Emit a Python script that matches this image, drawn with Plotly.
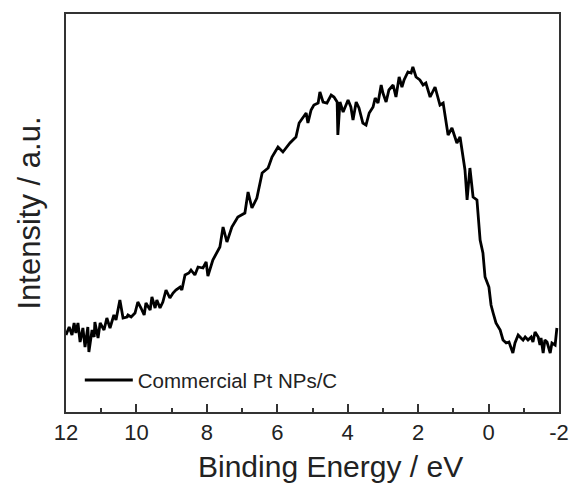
import plotly.graph_objects as go

energy_ev = [12.00, 11.97, 11.91, 11.83, 11.77, 11.72, 11.66, 11.60, 11.52, 11.46,
             11.38, 11.35, 11.26, 11.20, 11.18, 11.09, 11.03, 10.92, 10.84, 10.75,
             10.64, 10.58, 10.47, 10.38, 10.27, 10.24, 10.15, 10.04, 9.96, 9.87,
             9.78, 9.73, 9.61, 9.56, 9.47, 9.42, 9.33, 9.25, 9.16, 9.05,
             8.96, 8.88, 8.76, 8.71, 8.62, 8.51, 8.45, 8.34, 8.25, 8.11,
             8.02, 7.97, 7.83, 7.63, 7.54, 7.43, 7.29, 7.12, 6.92, 6.83,
             6.72, 6.58, 6.43, 6.26, 6.15, 5.98, 5.84, 5.64, 5.55, 5.47,
             5.38, 5.27, 5.18, 5.13, 5.04, 4.96, 4.84, 4.79, 4.70, 4.59,
             4.47, 4.39, 4.30, 4.28, 4.22, 4.13, 3.99, 3.91, 3.85, 3.76,
             3.68, 3.57, 3.48, 3.39, 3.28, 3.22, 3.14, 3.05, 3.00, 2.91,
             2.83, 2.71, 2.63, 2.54, 2.46, 2.40, 2.29, 2.20, 2.15, 2.06,
             1.95, 1.86, 1.78, 1.66, 1.52, 1.38, 1.29, 1.15, 1.04, 0.90,
             0.81, 0.67, 0.61, 0.53, 0.44, 0.33, 0.24, 0.16, 0.10, -0.01,
             -0.07, -0.13, -0.21, -0.33, -0.41, -0.50, -0.58, -0.64, -0.69, -0.75,
             -0.84, -0.92, -0.98, -1.04, -1.12, -1.21, -1.26, -1.32, -1.41, -1.46,
             -1.49, -1.55, -1.60, -1.66, -1.75, -1.80, -1.89, -1.94]

intensity_au = [77, 80, 85, 77, 89, 79, 89, 70, 84, 65,
                85, 60, 82, 75, 90, 74, 89, 82, 94, 84,
                97, 92, 112, 94, 95, 97, 95, 99, 110, 104,
                97, 109, 102, 115, 104, 112, 104, 110, 122, 114,
                119, 122, 125, 122, 137, 139, 142, 137, 145, 144,
                150, 136, 152, 165, 185, 170, 185, 195, 199, 220,
                204, 214, 239, 244, 255, 265, 260, 269, 272, 275,
                289, 294, 299, 289, 302, 307, 309, 320, 310, 309,
                317, 315, 310, 277, 310, 300, 312, 305, 292, 310,
                304, 289, 287, 299, 305, 314, 309, 327, 319, 310,
                322, 327, 315, 335, 325, 332, 340, 339, 345, 335,
                332, 327, 329, 315, 325, 307, 309, 277, 284, 269,
                275, 242, 212, 244, 215, 212, 172, 159, 135, 125,
                107, 99, 89, 82, 72, 69, 70, 64, 59, 69,
                77, 74, 72, 75, 72, 75, 70, 80, 75, 67,
                74, 59, 72, 70, 59, 69, 67, 84]

series_name = "Commercial Pt NPs/C"
x_ticks = [12, 10, 8, 6, 4, 2, 0, -2]
x_title = "Binding Energy / eV"
y_title = "Intensity / a.u."

font_family = "Liberation Sans, Arial, sans-serif"
axis_color = "#333333"
text_color = "#222222"

fig = go.Figure()
fig.add_trace(go.Scatter(
    x=energy_ev, y=intensity_au, mode="lines", name=series_name,
    line=dict(color="black", width=2.8),
))

fig.update_layout(
    width=574, height=490,
    margin=dict(l=66, r=15, t=14, b=78),
    paper_bgcolor="white", plot_bgcolor="white",
    font=dict(family=font_family, color=text_color),
    showlegend=True,
    legend=dict(x=0.028, y=0.08, xanchor="left", yanchor="middle",
                bgcolor="rgba(0,0,0,0)", font=dict(size=20.5, color=text_color),
                itemwidth=48, tracegroupgap=0),
    annotations=[dict(
        text=x_title, xref="paper", yref="paper", x=0.5375, y=-0.1357,
        xanchor="center", yanchor="middle", showarrow=False,
        font=dict(size=30, color=text_color),
    )],
)
fig.update_xaxes(
    range=[12, -2], tickvals=x_ticks, ticktext=[str(v) for v in x_ticks],
    ticks="inside", ticklen=8, tickwidth=1.5, tickcolor=axis_color,
    minor=dict(dtick=1, ticks="inside", ticklen=4, tickwidth=1.5, tickcolor=axis_color),
    showline=True, linecolor=axis_color, linewidth=1.5, mirror=True,
    showgrid=False, zeroline=False, automargin=False,
    tickfont=dict(size=22, color=text_color),
)
fig.update_yaxes(
    range=[0, 398], showticklabels=False, ticks="",
    showline=True, linecolor=axis_color, linewidth=1.5, mirror=True,
    showgrid=False, zeroline=False, automargin=False,
    title=dict(text=y_title, font=dict(size=31, color=text_color), standoff=14),
)

fig.write_html("out.html")
